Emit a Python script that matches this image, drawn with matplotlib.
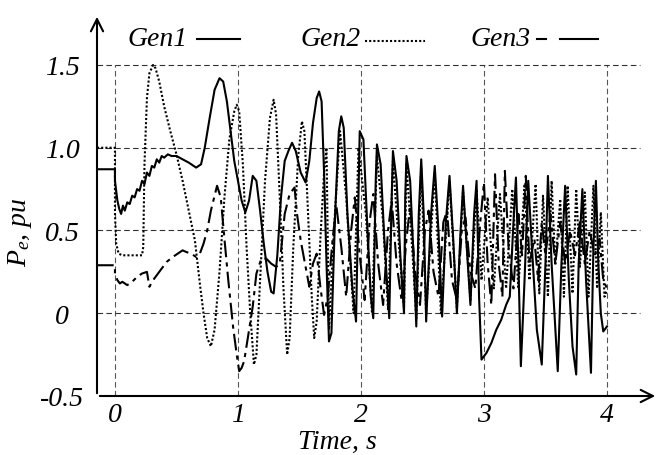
import matplotlib
matplotlib.use("Agg")
import matplotlib.pyplot as plt
from matplotlib.lines import Line2D

plt.rcParams['font.family'] = ['Liberation Serif', 'DejaVu Serif']
plt.rcParams['mathtext.fontset'] = 'custom'
plt.rcParams['mathtext.it'] = 'Liberation Serif:italic'
plt.rcParams['mathtext.rm'] = 'Liberation Serif'

# Gen1 (solido)
gen1_t = [-0.146, 0.0, 0.0, 0.02, 0.035, 0.05, 0.065, 0.08, 0.10, 0.12, 0.14, 0.16, 0.18, 0.20, 0.22,
          0.24, 0.26, 0.28, 0.30, 0.32, 0.34, 0.36, 0.38, 0.40, 0.43, 0.46, 0.50, 0.55, 0.60, 0.66, 0.70,
          0.73, 0.77, 0.81, 0.85, 0.88, 0.91, 0.94, 0.97, 1.00, 1.03, 1.06, 1.09, 1.12, 1.15, 1.18, 1.21,
          1.24, 1.27, 1.29, 1.32, 1.35, 1.38, 1.41, 1.44, 1.47, 1.51, 1.55, 1.58, 1.61, 1.64, 1.66, 1.68,
          1.70, 1.72, 1.74, 1.76, 1.79, 1.82, 1.84, 1.86, 1.89, 1.93, 1.96, 1.98, 1.99, 2.02, 2.05, 2.08,
          2.10, 2.12, 2.13, 2.16, 2.19, 2.23, 2.25, 2.26, 2.29, 2.32, 2.35, 2.36, 2.37, 2.40, 2.43, 2.45,
          2.47, 2.49, 2.51, 2.53, 2.57, 2.60, 2.63, 2.66, 2.69, 2.72, 2.75, 2.78, 2.81, 2.83, 2.86, 2.89,
          2.92, 2.94, 2.96, 2.98, 3.02, 3.06, 3.10, 3.14, 3.18, 3.21, 3.24, 3.26, 3.28, 3.30, 3.33, 3.36,
          3.39, 3.43, 3.47, 3.50, 3.52, 3.55, 3.60, 3.63, 3.66, 3.69, 3.72, 3.75, 3.77, 3.80, 3.83, 3.87,
          3.89, 3.91, 3.93, 3.95, 3.97, 4.00]
gen1_v = [0.87, 0.87, 0.80, 0.68, 0.63, 0.60, 0.65, 0.62, 0.67, 0.66, 0.71, 0.70, 0.75, 0.74, 0.80,
          0.78, 0.85, 0.83, 0.89, 0.88, 0.93, 0.91, 0.95, 0.94, 0.96, 0.95, 0.95, 0.93, 0.91, 0.88, 0.90,
          1.00, 1.18, 1.35, 1.42, 1.40, 1.28, 1.10, 0.92, 0.80, 0.68, 0.61, 0.68, 0.83, 0.80, 0.62, 0.42,
          0.25, 0.13, 0.12, 0.35, 0.70, 0.92, 0.98, 1.03, 0.98, 0.85, 0.79, 0.92, 1.15, 1.30, 1.34, 1.28,
          0.85, 0.30, -0.17, -0.12, 0.60, 1.10, 1.19, 1.12, 0.60, 0.15, -0.05, 0.70, 1.10, 1.05, 0.55, 0.10,
          -0.03, 0.80, 1.02, 0.90, 0.45, -0.03, 0.70, 0.98, 0.80, 0.35, 0.00, 0.70, 0.95, 0.80, 0.30, -0.08,
          0.60, 0.93, 0.60, -0.05, 0.60, 0.89, 0.50, -0.02, 0.55, 0.83, 0.45, 0.00, 0.50, 0.77, 0.40, 0.05,
          0.60, 0.80, 0.10, -0.28, -0.24, -0.18, -0.10, -0.04, 0.05, 0.10, 0.55, 0.82, 0.30, -0.32, 0.20, 0.80,
          0.40, -0.10, -0.31, 0.30, 0.83, 0.30, -0.35, 0.30, 0.77, 0.20, -0.20, -0.37, 0.30, 0.75, 0.20, -0.36,
          0.40, 0.80, 0.30, 0.00, -0.11, -0.08]

# Gen2 (pontilhado)
gen2_t = [-0.146, 0.0, 0.0, 0.01, 0.03, 0.06, 0.22, 0.23, 0.24, 0.26, 0.28, 0.31, 0.33, 0.36, 0.40, 0.45,
          0.50, 0.55, 0.60, 0.65, 0.69, 0.72, 0.75, 0.78, 0.81, 0.85, 0.89, 0.93, 0.97, 0.99, 1.01, 1.04,
          1.07, 1.10, 1.13, 1.15, 1.18, 1.22, 1.26, 1.29, 1.31, 1.34, 1.37, 1.40, 1.42, 1.45, 1.49, 1.52,
          1.54, 1.57, 1.60, 1.62, 1.64, 1.67, 1.70, 1.72, 1.74, 1.78, 1.83, 1.88, 1.94, 1.98, 2.04, 2.09,
          2.13, 2.18, 2.22, 2.26, 2.31, 2.35, 2.37, 2.42, 2.45, 2.49, 2.53, 2.60, 2.65, 2.72, 2.78, 2.83,
          2.89, 2.94, 2.98, 3.03, 3.08, 3.13, 3.18, 3.23, 3.28, 3.33, 3.37, 3.42, 3.45, 3.48, 3.52, 3.55,
          3.58, 3.62, 3.65, 3.68, 3.72, 3.75, 3.78, 3.82, 3.85, 3.89, 3.92, 3.95, 3.98, 4.00]
gen2_v = [1.00, 1.00, 0.60, 0.42, 0.36, 0.35, 0.35, 0.40, 0.90, 1.30, 1.45, 1.50, 1.48, 1.40, 1.25, 1.10,
          0.96, 0.80, 0.62, 0.44, 0.18, 0.00, -0.15, -0.20, -0.10, 0.25, 0.70, 1.05, 1.22, 1.26, 1.22, 0.90,
          0.40, 0.00, -0.31, -0.25, 0.20, 0.80, 1.18, 1.29, 1.20, 0.70, 0.15, -0.25, -0.15, 0.40, 0.95, 1.16,
          1.10, 0.60, 0.10, -0.15, -0.05, 0.45, 0.85, 1.00, -0.10, 0.50, 1.10, 0.70, 0.00, 1.00, 0.60, 0.00,
          0.95, 0.55, 0.02, 0.92, 0.40, 0.03, 0.90, 0.35, -0.03, 0.88, 0.00, 0.85, 0.00, 0.80, 0.03, 0.74,
          0.08, 0.75, 0.20, 0.70, 0.15, 0.72, 0.15, 0.75, 0.15, 0.78, 0.20, 0.78, 0.12, 0.71, 0.10, 0.80,
          0.29, 0.69, 0.10, 0.77, 0.12, 0.75, 0.28, 0.73, 0.10, 0.77, 0.15, 0.61, 0.10, 0.14]

# Gen3 (tracejado)
gen3_t = [-0.146, 0.0, 0.0, 0.02, 0.04, 0.06, 0.10, 0.14, 0.18, 0.22, 0.26, 0.28, 0.31, 0.35, 0.39, 0.42,
          0.47, 0.51, 0.55, 0.58, 0.62, 0.66, 0.69, 0.72, 0.75, 0.78, 0.81, 0.83, 0.86, 0.89, 0.92, 0.96,
          0.99, 1.01, 1.03, 1.05, 1.08, 1.12, 1.15, 1.19, 1.23, 1.27, 1.31, 1.34, 1.38, 1.42, 1.46, 1.48,
          1.51, 1.54, 1.58, 1.61, 1.64, 1.67, 1.70, 1.73, 1.77, 1.80, 1.84, 1.88, 1.92, 1.95, 1.99, 2.03,
          2.07, 2.10, 2.14, 2.18, 2.22, 2.25, 2.29, 2.33, 2.37, 2.40, 2.44, 2.48, 2.52, 2.55, 2.59, 2.63,
          2.67, 2.70, 2.74, 2.78, 2.82, 2.85, 2.89, 2.93, 2.97, 3.00, 3.03, 3.06, 3.09, 3.12, 3.15, 3.17,
          3.20, 3.24, 3.28, 3.31, 3.34, 3.37, 3.41, 3.44, 3.47, 3.50, 3.54, 3.58, 3.62, 3.66, 3.70, 3.74,
          3.78, 3.82, 3.86, 3.90, 3.94, 3.97, 4.00]
gen3_v = [0.29, 0.29, 0.24, 0.20, 0.18, 0.19, 0.17, 0.19, 0.22, 0.24, 0.25, 0.16, 0.20, 0.24, 0.28, 0.31,
          0.34, 0.36, 0.38, 0.37, 0.36, 0.34, 0.36, 0.42, 0.50, 0.62, 0.71, 0.77, 0.70, 0.45, 0.21, -0.08,
          -0.25, -0.35, -0.33, -0.29, -0.15, 0.04, 0.24, 0.33, 0.33, 0.30, 0.28, 0.30, 0.60, 0.72, 0.76, 0.60,
          0.44, 0.32, 0.16, 0.30, 0.36, 0.16, -0.01, 0.10, 0.45, 0.65, 0.40, 0.10, 0.50, 0.70, 0.35, 0.08,
          0.55, 0.72, 0.30, 0.05, 0.50, 0.68, 0.30, 0.08, 0.45, 0.65, 0.25, 0.05, 0.50, 0.62, 0.25, 0.10,
          0.55, 0.62, 0.20, 0.08, 0.50, 0.58, 0.25, 0.15, 0.55, 0.79, 0.30, 0.05, 0.84, 0.30, 0.10, 0.86,
          0.40, 0.15, 0.60, 0.35, 0.83, 0.30, 0.45, 0.20, 0.55, 0.35, 0.60, 0.30, 0.55, 0.30, 0.50, 0.35,
          0.55, 0.30, 0.50, 0.35, 0.45, 0.20, 0.15]

x_ticks = [0, 1, 2, 3, 4]
y_ticks = [-0.5, 0, 0.5, 1.0, 1.5]
y_tick_labels = ['-0.5', '0', '0.5', '1.0', '1.5']

fig = plt.figure(figsize=(6.61, 4.56), dpi=100)
ax = fig.add_axes([97 / 661, 59 / 456, 561 / 661, 382 / 456])
ax.set_xlim(-0.146, 4.415)
ax.set_ylim(-0.5, 1.808)

# grade tracejada
for xt in x_ticks:
    ax.plot([xt, xt], [-0.5, 1.5], color='#555555', lw=0.8, dashes=(5, 3), zorder=1)
for yt in y_ticks[1:]:
    ax.plot([-0.146, 4.27], [yt, yt], color='#333333', lw=0.8, dashes=(5, 3), zorder=1)

ax.plot(gen2_t, gen2_v, color='black', lw=1.5, linestyle=(0, (1, 1)), zorder=2)
ax.plot(gen3_t, gen3_v, color='black', lw=1.5, linestyle=(0, (8, 2.5, 2, 2.5)), zorder=3)
ax.plot(gen1_t, gen1_v, color='black', lw=1.5, zorder=4)

for s in ax.spines.values():
    s.set_visible(False)
ax.annotate('', xy=(1, 0), xytext=(0, 0), xycoords='axes fraction',
            arrowprops=dict(arrowstyle='->', lw=1.5, color='black', mutation_scale=22))
ax.annotate('', xy=(0, 1), xytext=(0, 0), xycoords='axes fraction',
            arrowprops=dict(arrowstyle='->', lw=1.5, color='black', mutation_scale=22))

ax.set_xticks(x_ticks)
ax.set_xticklabels([str(x) for x in x_ticks], fontsize=20, style='italic')
ax.set_yticks(y_ticks)
ax.set_yticklabels(y_tick_labels, fontsize=20, style='italic', ha='center')
ax.tick_params(axis='both', length=0)
ax.tick_params(axis='x', pad=4)
ax.tick_params(axis='y', pad=25)

ax.set_xlabel('Time, s', fontsize=20, style='italic')
ax.xaxis.set_label_coords(0.428, -0.085)
ax.set_ylabel(r'$P_e$, pu', fontsize=20, style='italic')
ax.yaxis.set_label_coords(-0.112, 0.43)

# legenda manual no topo
leg_y = 1 - 40 / 456
fig.text(127 / 661, leg_y, 'Gen1', fontsize=20, style='italic', va='center')
fig.text(300 / 661, leg_y, 'Gen2', fontsize=20, style='italic', va='center')
fig.text(470 / 661, leg_y, 'Gen3', fontsize=20, style='italic', va='center')
fig.add_artist(Line2D([197 / 661, 240 / 661], [leg_y, leg_y], color='black', lw=1.5))
fig.add_artist(Line2D([365 / 661, 425 / 661], [leg_y - 0.005, leg_y - 0.005], color='black', lw=1.5,
                      linestyle=(0, (1, 1))))
fig.add_artist(Line2D([537 / 661, 546 / 661], [leg_y, leg_y], color='black', lw=1.5))
fig.add_artist(Line2D([560 / 661, 598 / 661], [leg_y, leg_y], color='black', lw=1.5))

fig.savefig('out.png', dpi=100)
